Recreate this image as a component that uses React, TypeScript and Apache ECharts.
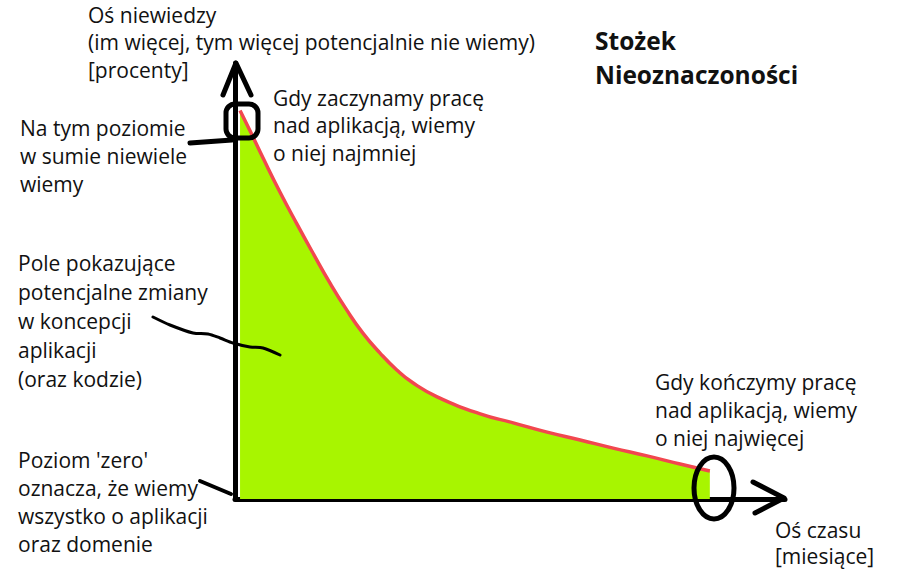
import React, { useEffect, useRef } from "react";
import * as echarts from "echarts";

// Months (x) and "unknown" percentage (y)
const months = [0.11, 0.33, 0.61, 0.98, 1.35, 1.7, 2.07, 2.44, 2.79, 3.16, 3.53, 3.88, 4.41, 5.35, 6.07, 6.81, 7.53, 8.25, 8.99, 9.71, 10.36];
const unknownPct = [100, 94.7, 87.8, 79.0, 70.8, 63.3, 55.6, 48.6, 42.7, 37.6, 33.2, 29.9, 26.3, 21.9, 19.6, 17.2, 15.2, 13.1, 11.1, 9.0, 7.2];

const yAxisTitle = ["Oś niewiedzy", "(im więcej, tym więcej potencjalnie nie wiemy)", "[procenty]"];
const xAxisTitle = ["Oś czasu", "[miesiące]"];
const chartTitle = ["Stożek", "Nieoznaczoności"];
const noteStart = ["Gdy zaczynamy pracę", "nad aplikacją, wiemy", "o niej najmniej"];
const noteTop = ["Na tym poziomie", "w sumie niewiele", "wiemy"];
const noteArea = ["Pole pokazujące", "potencjalne zmiany", "w koncepcji", "aplikacji", "(oraz kodzie)"];
const noteEnd = ["Gdy kończymy pracę", "nad aplikacją, wiemy", "o niej najwięcej"];
const noteZero = ["Poziom 'zero'", "oznacza, że wiemy", "wszystko o aplikacji", "oraz domenie"];

const FONT = "'Open Sans', sans-serif";
const FS = 21;
const LH = 28;

function textBlock(lines: string[], x: number, yTop: number, opts: any = {}) {
  return {
    type: "text",
    x,
    y: yTop,
    style: {
      text: lines.join("\n"),
      fill: "#111",
      font: `${opts.weight || "normal"} ${opts.size || FS}px ${FONT}`,
      lineHeight: opts.lh || LH,
      verticalAlign: "top",
      align: "left",
    },
    z: 10,
  };
}

export default function App() {
  const ref = useRef<HTMLDivElement>(null);
  useEffect(() => {
    if (!ref.current) return;
    const chart = echarts.init(ref.current, undefined, { renderer: "svg" });
    const black = { stroke: "#000", lineWidth: 5, lineCap: "round", lineJoin: "round", fill: "none" };
    chart.setOption({
      animation: false,
      backgroundColor: "#fff",
      grid: { left: 235, right: 115, top: 63, bottom: 77 },
      xAxis: {
        type: "value",
        min: 0,
        max: 12,
        axisLine: { show: true, lineStyle: { color: "#000", width: 5, cap: "round" } },
        axisTick: { show: false },
        axisLabel: { show: false },
        splitLine: { show: false },
      },
      yAxis: {
        type: "value",
        min: 0,
        max: 112.2,
        axisLine: { show: true, lineStyle: { color: "#000", width: 5, cap: "round" } },
        axisTick: { show: false },
        axisLabel: { show: false },
        splitLine: { show: false },
      },
      series: [
        {
          type: "line",
          data: months.map((m, i) => [m, unknownPct[i]]),
          smooth: 0.5,
          symbol: "none",
          lineStyle: { color: "#f2474f", width: 3.5 },
          areaStyle: { color: "#a8f500", opacity: 1 },
          z: 2,
        },
      ],
      graphic: [
        // axis arrow heads
        { type: "polyline", shape: { points: [[223, 95], [236, 63], [251, 95]] }, style: black, z: 5 },
        { type: "polyline", shape: { points: [[753, 482], [784, 498], [755, 513]] }, style: black, z: 5 },
        // hand drawn marks
        { type: "rect", shape: { x: 226, y: 104, width: 32, height: 34, r: 9 }, style: black, z: 5 },
        { type: "polyline", shape: { points: [[190, 143], [232, 140]] }, style: black, z: 5 },
        { type: "ellipse", shape: { cx: 714, cy: 488, rx: 20, ry: 31 }, style: black, z: 5 },
        {
          type: "polyline",
          shape: {
            points: [[153, 317], [170, 325], [193, 333], [208, 334], [220, 338], [233, 343], [250, 347], [263, 348], [280, 355]],
            smooth: 0.3,
          },
          style: { ...black, lineWidth: 3 },
          z: 5,
        },
        { type: "polyline", shape: { points: [[200, 481], [231, 494]] }, style: { ...black, lineWidth: 4 }, z: 5 },
        // texts
        textBlock(yAxisTitle, 88, 1, { lh: 27.5 }),
        textBlock(chartTitle, 595, 23, { weight: "bold", size: 24.5, lh: 34 }),
        textBlock(noteStart, 273, 84, { lh: 27.5 }),
        textBlock(noteTop, 20, 114),
        textBlock(noteArea, 18, 248, { lh: 29 }),
        textBlock(noteEnd, 655, 368),
        textBlock(noteZero, 18, 446),
        textBlock(xAxisTitle, 775, 517, { lh: 26 }),
      ],
    });
    return () => chart.dispose();
  }, []);
  return <div ref={ref} style={{ width: 900, height: 576, position: "absolute", left: 0, top: 0 }} />;
}
